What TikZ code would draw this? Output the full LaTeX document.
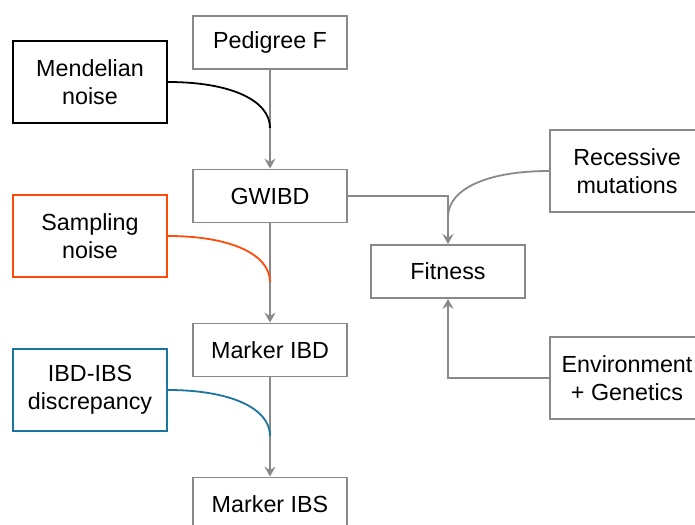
\documentclass[tikz,border=0pt]{standalone}
\usepackage{fontspec}
\setmainfont{Liberation Sans}
\usetikzlibrary{arrows.meta}
\definecolor{boxgray}{HTML}{898989}
\definecolor{noiseorange}{HTML}{FF4A0A}
\definecolor{noiseblue}{HTML}{1B75A0}
\tikzset{
  box/.style={draw=boxgray, line width=1.8pt, minimum width=154pt, align=center, inner sep=0pt,
    font=\fontsize{23.3}{28}\selectfont},
  boxtall/.style={box, minimum height=82pt},
  boxshort/.style={box, minimum height=53pt},
  link/.style={draw=boxgray, line width=1.8pt},
  arr/.style={link, -{Stealth[length=10pt,width=11pt,inset=3.5pt]}},
  curvy/.style={line width=1.8pt},
}
\begin{document}
\begin{tikzpicture}[x=1pt,y=1pt]
\useasboundingbox (0,0) rectangle (695,524);
\node[boxshort] (ped) at (270,481.5) {Pedigree F};
\node[boxtall, draw=black] (mend) at (90,442) {Mendelian\\noise};
\node[boxshort] (gw) at (270,328) {GWIBD};
\node[boxtall, draw=noiseorange] (samp) at (90,288) {Sampling\\noise};
\node[boxshort] (mibd) at (270,174) {Marker IBD};
\node[boxtall, draw=noiseblue] (disc) at (90,134) {IBD-IBS\\discrepancy};
\node[boxshort] (mibs) at (270,20) {Marker IBS};
\node[boxshort] (fit) at (448,252.5) {Fitness};
\node[boxtall] (rec) at (627,353) {Recessive\\mutations};
\node[boxtall] (env) at (627,146) {Environment\\+ Genetics};

\coordinate (j1) at (270,396);
\coordinate (j2) at (270,242);
\coordinate (j3) at (270,88);
\coordinate (j4) at (448,307);

\draw[arr] (ped.south) -- (gw.north);
\draw[arr] (gw.south) -- (mibd.north);
\draw[arr] (mibd.south) -- (mibs.north);
\draw[arr] (gw.east) -| (fit.north);
\draw[arr] (env.west) -| (fit.south);

\draw[curvy, black] (mend.east) .. controls +(62,0) and +(0,28) .. (j1);
\draw[curvy, noiseorange] (samp.east) .. controls +(62,0) and +(0,28) .. (j2);
\draw[curvy, noiseblue] (disc.east) .. controls +(62,0) and +(0,28) .. (j3);
\draw[link] (rec.west) .. controls +(-62,0) and +(0,28) .. (j4);
\end{tikzpicture}
\end{document}
